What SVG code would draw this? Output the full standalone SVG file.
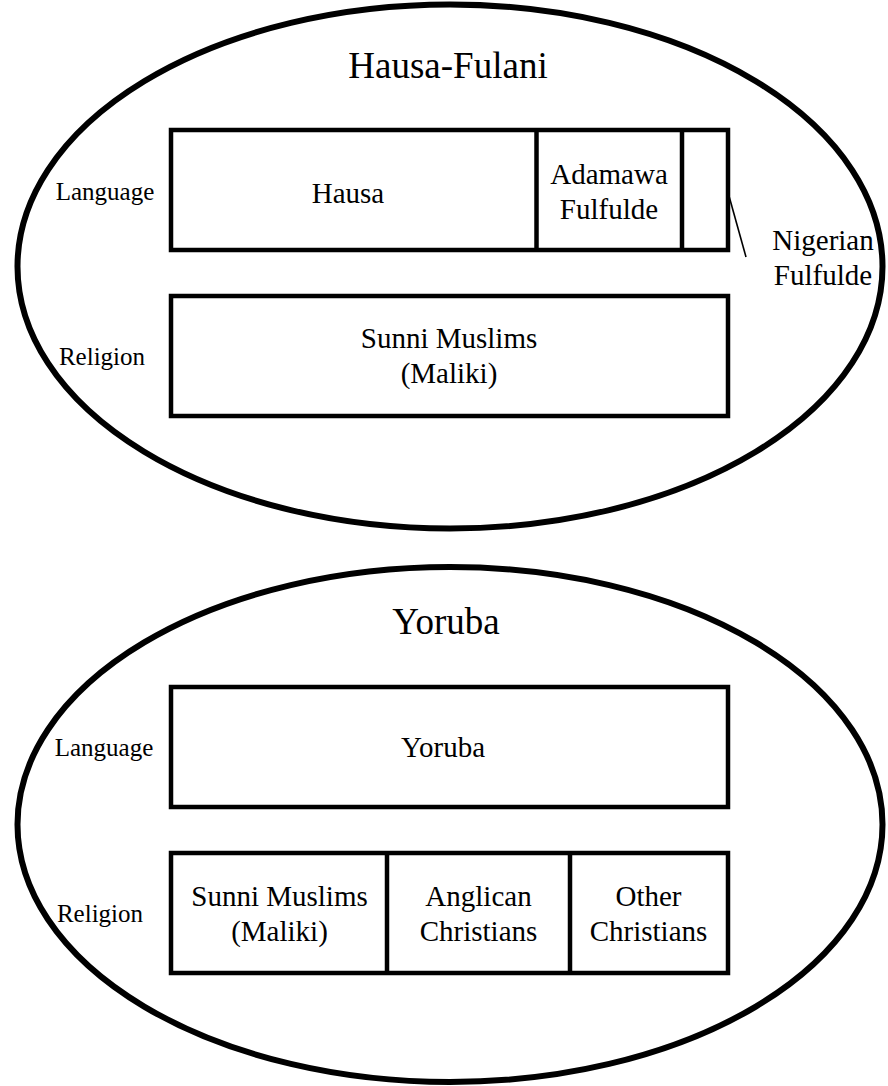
<svg xmlns="http://www.w3.org/2000/svg" width="888" height="1086" viewBox="0 0 888 1086">
<style>
.ell{fill:none;stroke:#000;stroke-width:6}
.box{fill:#fff;stroke:#000;stroke-width:4.5;stroke-linejoin:miter}
.div{stroke:#000;stroke-width:4.5}
.lead{stroke:#000;stroke-width:1.6;fill:none}
.t{font-family:'Liberation Serif',serif;fill:#000;text-anchor:middle}
.title{font-size:37px}
.lbl{font-size:25px}
.cell{font-size:29px}
</style>
<rect width="888" height="1086" fill="#fff"/>
<g id="hausa-fulani">
<ellipse class="ell" cx="450" cy="266.5" rx="432.5" ry="262"/>
<text class="t title" x="448" y="78">Hausa-Fulani</text>
</g>
<g id="hf-language">
<text class="t lbl" x="105" y="200">Language</text>
<rect class="box" x="171" y="130" width="557" height="120"/>
<line class="div" x1="536.5" y1="130" x2="536.5" y2="250"/>
<line class="div" x1="682" y1="130" x2="682" y2="250"/>
</g>
<g id="hf-hausa"><text class="t cell" x="348" y="203">Hausa</text></g>
<g id="hf-adamawa"><text class="t cell" x="609" y="184">Adamawa</text><text class="t cell" x="609" y="219">Fulfulde</text></g>
<g id="hf-nigerian"><text class="t cell" x="823" y="250">Nigerian</text><text class="t cell" x="823" y="285">Fulfulde</text></g>
<g id="hf-religion">
<text class="t lbl" x="102" y="365">Religion</text>
<rect class="box" x="171" y="296" width="557" height="120"/>
</g>
<g id="hf-sunni"><text class="t cell" x="449" y="348">Sunni Muslims</text><text class="t cell" x="449" y="383">(Maliki)</text></g>
<g id="yoruba">
<ellipse class="ell" cx="450" cy="824.5" rx="432.5" ry="257.5"/>
<text class="t title" x="446" y="634">Yoruba</text>
</g>
<g id="y-language">
<text class="t lbl" x="104" y="756">Language</text>
<rect class="box" x="171" y="687" width="557" height="120"/>
</g>
<g id="y-yoruba"><text class="t cell" x="443" y="757">Yoruba</text></g>
<g id="y-religion">
<text class="t lbl" x="100" y="922">Religion</text>
<rect class="box" x="171" y="853" width="557" height="120"/>
<line class="div" x1="387" y1="853" x2="387" y2="973"/>
<line class="div" x1="570" y1="853" x2="570" y2="973"/>
</g>
<g id="y-sunni"><text class="t cell" x="279.5" y="906">Sunni Muslims</text><text class="t cell" x="279.5" y="941">(Maliki)</text></g>
<g id="y-anglican"><text class="t cell" x="478.5" y="906">Anglican</text><text class="t cell" x="478.5" y="941">Christians</text></g>
<g id="y-other"><text class="t cell" x="648.5" y="906">Other</text><text class="t cell" x="648.5" y="941">Christians</text></g>
<g id="connectors">
<line class="lead" x1="729" y1="196" x2="746" y2="257"/>
</g>
</svg>
